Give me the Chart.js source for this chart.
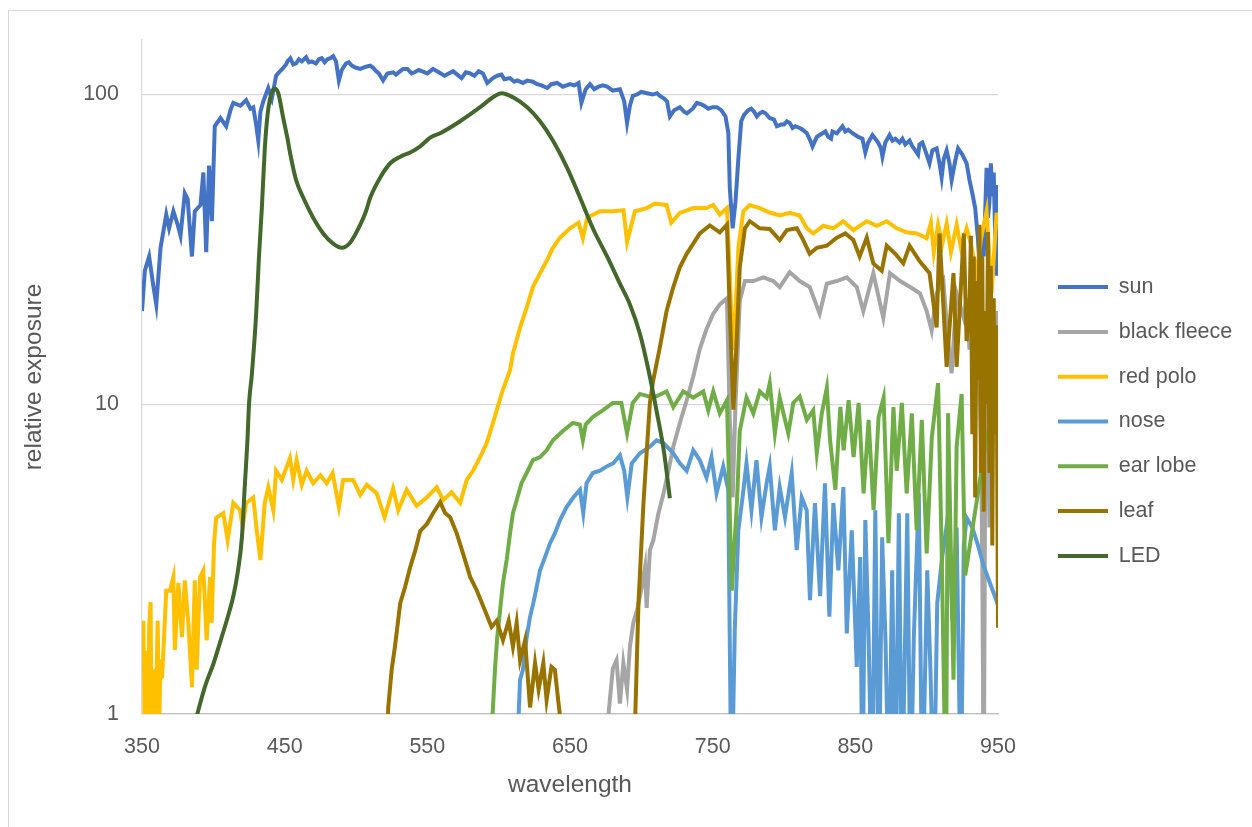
<!DOCTYPE html>
<html>
<head>
<meta charset="utf-8">
<title>relative exposure</title>
<script src="https://cdn.jsdelivr.net/npm/chart.js"></script>
<style>
  html, body { margin: 0; padding: 0; background: #fff; overflow: hidden; }
  #frame { position: absolute; left: 8px; top: 10px; width: 1270px; height: 840px; border: 1px solid #d9d9d9; }
  #box { position: absolute; left: 0; top: 0; width: 1252px; height: 827px; }
</style>
</head>
<body>
<div id="frame"></div>
<div id="box"><canvas id="chart"></canvas></div>
<script>
// axis ticks
const xTicks = [350, 450, 550, 650, 750, 850, 950];
const yTicks = [1, 10, 100];

// sun
const sunNm = [
  350, 352, 355, 358, 360, 363, 367, 369, 372, 375,
  377, 380, 382, 385, 387, 391, 393, 395, 397, 399,
  401, 405, 409, 412, 414, 419, 423, 426, 428, 430,
  431.5, 433, 435, 438.5, 441, 444, 446, 449, 451, 452,
  454, 456, 458, 460, 462, 465, 467, 469, 472, 474,
  476, 478, 480, 482, 484, 486, 488, 490, 493, 495,
  497, 500, 503, 507, 510, 512, 514, 516, 519, 522,
  526, 528, 531, 533, 536, 539, 541, 544, 546, 550,
  554, 558, 562, 565, 568, 571, 574, 577, 580, 583,
  586, 589, 592, 596, 599, 602, 604, 608, 611, 613,
  617, 620, 624, 627, 630, 634, 637, 641, 645, 650,
  653, 656, 658, 661, 664, 667, 670, 673, 676, 680,
  685, 688, 690, 692, 694, 697, 700, 704, 708, 711,
  713, 716, 718, 720, 723, 727, 730, 732, 736, 739,
  742, 744, 747, 750, 753, 756, 759, 761, 762, 764,
  766, 768, 770, 772, 775, 777, 779, 781, 783, 785,
  787, 790, 793, 795, 798, 800, 802, 804, 806, 808,
  811, 813, 816, 819, 820, 823, 825, 827, 829, 831,
  833, 834, 837, 839, 841, 843, 845, 848, 850, 852,
  855, 857, 859, 862, 864, 866, 868, 869, 871, 874,
  876, 878, 881, 883, 885, 888, 890, 892, 894, 895,
  897, 898, 900, 902, 904, 907, 909, 910.5, 912, 914,
  916, 917.5, 920, 922, 925, 928, 930, 932, 934, 936,
  937, 938, 939, 940, 942, 943, 944, 945, 946, 947,
  948, 949, 950
];
const sunVal = [
  20, 27, 30, 24, 21, 32, 41, 37, 42, 38,
  35, 48, 46, 30, 42, 44, 56, 31, 59, 39,
  79, 84, 79, 89, 94, 92, 96, 90, 91, 80,
  71, 88, 95, 105, 97, 115, 118, 122, 125, 128,
  131, 125, 126, 130, 128, 132, 127, 128, 126, 130,
  131, 127, 130, 131, 133, 128, 111, 120, 126, 127,
  124, 122, 121, 123, 124, 122, 119, 117, 111, 117,
  118, 116, 119, 121, 121, 117, 118, 120, 119, 117,
  121, 118, 115, 117, 119, 116, 113, 118, 117, 115,
  119, 117, 109, 113, 115, 116, 112, 113, 110, 111,
  109, 111, 110, 108, 107, 105, 108, 109, 106, 108,
  107, 109, 94, 104, 108, 104, 106, 107, 106, 103,
  104, 95, 81, 92, 99, 100, 102, 101, 100, 101,
  99, 97, 95, 85, 89, 91, 88, 87, 90, 94,
  93, 92, 90, 91, 91, 89, 85, 75, 50, 37,
  45, 62, 82, 86, 89, 90, 88, 85, 87, 88,
  87, 84, 83, 79, 80, 80, 82, 81, 78, 79,
  78, 77, 75, 70, 68, 73, 74, 75, 76, 73,
  72, 76, 75, 77, 79, 76, 77, 75, 74, 73,
  72, 65, 70, 74, 72, 70, 67, 63, 70, 74,
  71, 72, 70, 72, 69, 71, 68, 66, 64, 69,
  70, 68, 64, 60, 66, 67, 60, 54, 62, 66,
  60, 53, 61, 67, 64, 60, 53, 48, 43, 34,
  28, 24, 37, 30, 58, 40, 45, 60, 47, 56,
  35, 26, 51
];

// black fleece
const fleeceNm = [
  676, 677, 680, 682.6, 685, 687.4, 690, 692, 694.4, 697,
  700.3, 702.6, 703.7, 706, 708.4, 712, 715.6, 719, 722.4, 727,
  731.8, 736.4, 741, 745.7, 750.4, 755, 760, 762, 764, 766,
  769, 772.6, 778.5, 785.5, 792.5, 797, 804, 811, 818, 825,
  830, 837, 844, 851, 855.6, 862.6, 869.6, 874.3, 881.4, 888.4,
  895.3, 900, 903.5, 907, 911.7, 915, 917.5, 921, 926, 928,
  930, 932, 934, 936, 938, 939, 940, 941, 942, 944,
  946, 948, 950
];
const fleeceVal = [
  0.5, 1.0, 1.4, 1.49, 1.08, 1.46, 1.2, 1.65, 1.97, 2.16,
  2.57, 2.98, 2.2, 3.38, 3.64, 4.45, 5.16, 6.1, 7.3, 8.7,
  10.3, 12.3, 15.1, 17.5, 19.6, 21, 22, 9, 5, 10,
  21.6, 25, 25, 25.7, 25, 23.9, 26.7, 25, 23.9, 19.6,
  24.5, 25, 25.7, 23.9, 20, 26.5, 19, 26.5, 25, 23.9,
  22.8, 20, 17.3, 22.8, 25, 16, 12.6, 22.8, 19, 22,
  15, 21, 12, 18, 8, 3, 0.5, 6, 20, 4,
  18, 10, 20
];

// red polo
const poloNm = [
  350, 351, 352, 353, 354, 355, 356, 357, 358, 359,
  360, 361, 362, 363, 364, 365, 367, 369.6, 372, 373,
  375.5, 378, 380, 382.5, 385, 387, 388.3, 390.7, 393, 395.3,
  397.7, 398.8, 400.5, 402, 407, 410, 414, 418.7, 420.6, 423,
  428, 430.4, 433, 436, 438.5, 442, 444, 448, 453.7, 456,
  458.4, 462, 465.4, 470, 475, 479.5, 483.6, 488, 491, 498,
  503, 507.5, 514.5, 520, 526, 529.6, 535.5, 542.5, 549.6, 556.6,
  561, 567, 573, 577.6, 582, 587, 591.6, 595, 598.6, 602,
  608, 610, 615, 619.6, 624, 629, 633.6, 638, 643, 650,
  656, 659, 662, 671, 680, 687.5, 690, 695.5, 703.7, 709.5,
  717.7, 721, 727, 736.4, 745.7, 750.4, 755, 760, 762, 764,
  766, 768, 771.5, 776, 783, 790, 797, 804, 811, 816,
  820.5, 827.5, 834.5, 841.5, 848.6, 858, 865, 872, 879, 886,
  893, 900, 903, 905, 908, 911, 914, 917, 921, 924,
  928, 931, 935, 938, 942, 945.5, 949, 950
];
const poloVal = [
  1.5, 2.0, 0.8, 1.6, 0.7, 1.9, 2.3, 0.6, 1.4, 0.8,
  1.2, 2.0, 0.9, 1.5, 1.3, 1.6, 2.5, 2.5, 2.77, 1.61,
  2.65, 1.77, 2.7, 1.97, 1.22, 2.7, 1.39, 2.77, 2.91, 1.73,
  2.77, 1.97, 3.56, 4.3, 4.45, 3.64, 4.8, 4.55, 4.02, 4.8,
  5.0, 3.92, 3.14, 4.8, 5.4, 4.55, 6.1, 5.7, 6.7, 5.7,
  6.6, 5.5, 6.1, 5.56, 5.9, 5.56, 6.0, 4.66, 5.7, 5.7,
  5.1, 5.5, 5.16, 4.32, 5.35, 4.55, 5.3, 4.7, 5.0, 5.4,
  4.9, 5.2, 4.8, 5.7, 6.1, 6.75, 7.5, 8.4, 9.56, 10.8,
  12.9, 14.6, 17.7, 20.5, 23.9, 26.5, 29, 32, 34.5, 37,
  38.6, 34.4, 40, 42, 42, 42.3, 33.4, 42, 43, 44.5,
  44, 38.6, 41.5, 43, 43, 44, 41, 43, 26.5, 15,
  20, 32, 42, 44, 43, 41.6, 40.7, 41.5, 40.7, 37,
  35.6, 37.7, 37, 39, 36.5, 39, 37.7, 39, 37, 35.9,
  35.6, 34.4, 38.6, 31, 38, 33, 38.3, 31, 38, 32,
  37, 33, 26.5, 34, 42, 22.8, 41.5, 38
];

// nose
const noseNm = [
  612, 614, 615, 617, 619.6, 622, 624.3, 626.6, 629, 632.5,
  636, 639.4, 643, 647.6, 652.3, 657, 659.3, 661.6, 666, 671,
  675.7, 680.4, 685, 688, 690.2, 693.3, 699, 706, 710.7, 715.4,
  722.4, 727, 731.8, 736.4, 741, 745.7, 749.2, 752.7, 757.4, 760.9,
  763.2, 765.5, 768, 771.3, 773.7, 777.2, 780.7, 784.2, 787.8, 790,
  793.6, 797, 800.7, 805.4, 808.9, 812.4, 815.9, 818.2, 821.7, 825.3,
  828.7, 831.8, 834.6, 838.1, 841.6, 844, 847.5, 851, 853.4, 855,
  857, 859.3, 861.7, 864, 866.5, 868.8, 871.2, 873.5, 875.8, 878.2,
  880.5, 882.8, 886.4, 888.7, 891, 894.5, 896.9, 900.4, 902.7, 905,
  907.4, 910.9, 915.5, 918, 921, 924, 926, 928, 932, 936,
  940, 945, 950
];
const noseVal = [
  0.5, 0.99, 1.29, 1.39, 1.77, 2.06, 2.28, 2.57, 2.91, 3.21,
  3.56, 3.83, 4.23, 4.66, 5.0, 5.3, 4.45, 5.56, 6.0, 6.1,
  6.3, 6.45, 6.85, 6.1, 5.0, 6.45, 6.95, 7.3, 7.65, 7.5,
  6.95, 6.45, 6.1, 7.1, 6.6, 5.8, 6.75, 5.16, 6.3, 5.3,
  0.5, 1.87, 3.92, 5.16, 6.45, 4.55, 6.6, 4.32, 5.56, 6.3,
  3.92, 5.4, 4.32, 6.0, 3.38, 5.0, 4.55, 2.33, 4.8, 2.4,
  5.56, 2.06, 4.8, 2.91, 5.4, 1.82, 3.92, 1.42, 3.21, 0.5,
  4.23, 1.77, 0.5, 4.55, 0.5, 3.72, 1.7, 0.5, 2.91, 0.5,
  4.45, 0.5, 4.45, 0.5, 1.77, 5.16, 0.5, 2.91, 1.36, 0.5,
  2.28, 3.21, 4.55, 2.0, 4.0, 0.5, 3.5, 4.3, 4.0, 3.5,
  3.0, 2.6, 2.25
];

// ear lobe
const earNm = [
  594, 595.7, 597.4, 599, 601, 603, 605.6, 608, 610, 612.6,
  616, 619.6, 624, 629, 633.6, 638, 645, 652, 657, 659,
  661, 666, 673, 680, 686, 690, 694, 699, 708.4, 717.7,
  722.4, 729.4, 736.4, 743.4, 746.9, 750.4, 755, 760, 763.4, 767,
  769, 773.7, 778.5, 783, 787.8, 790, 793.6, 797, 803, 806.5,
  811, 816, 820.5, 823, 826.5, 830, 832.3, 836, 839.5, 841.8,
  845.3, 848.8, 852.3, 855.8, 859.3, 862.8, 866.3, 869.8, 873.2, 876.7,
  879, 882.6, 886, 889.6, 893, 896.6, 900, 903.6, 908, 910.5,
  913.5, 915, 918.8, 921, 924.5, 927, 942, 946, 950
];
const earVal = [
  0.5, 0.99, 1.39, 1.77, 2.16, 2.65, 3.14, 3.83, 4.45, 4.9,
  5.56, 6.0, 6.6, 6.75, 7.1, 7.65, 8.2, 8.7, 8.6, 7.65,
  8.6, 9.1, 9.56, 10.1, 10.1, 8.05, 10.1, 10.8, 10.5, 11,
  9.8, 11, 10.5, 11, 9.56, 11, 9.35, 10.3, 2.5, 4.8,
  8.2, 10.5, 9.35, 11, 10.5, 11.7, 8.05, 10.5, 8.05, 10.1,
  10.6, 8.9, 9.56, 6.95, 9.35, 11.3, 7.65, 5.3, 9.8, 7.1,
  10.3, 6.75, 10.1, 5.16, 8.9, 4.55, 9.1, 10.5, 3.56, 9.8,
  6.1, 10.1, 5.16, 9.35, 3.92, 8.9, 3.3, 7.8, 11.7, 3.4,
  0.5, 9.35, 1.29, 7.3, 10.8, 2.8, 7.8, 9, 10
];

// leaf
const leafNm = [
  520, 522.6, 525, 527.3, 531, 534.4, 538, 541.6, 545, 549.6,
  554, 559, 562.5, 566, 570.6, 575, 580, 584.6, 590.4, 595,
  598.6, 603, 607, 610, 612.6, 615, 618.5, 622, 625.5, 628,
  631.3, 633.6, 637, 639.4, 641.7, 644, 646, 694, 695.5, 698,
  700.3, 701.5, 703.7, 706, 708.4, 713, 717.7, 722.4, 727, 731.8,
  736.4, 741, 748, 755, 760, 762, 764.5, 766.8, 769, 772.6,
  776, 783, 790, 797, 802, 809, 813.5, 818, 823, 830,
  837, 843, 848.6, 853, 858, 862.6, 868.5, 872, 878, 883.6,
  888, 895, 902, 907, 909, 914, 918.8, 921, 926, 928,
  930, 931, 932, 933, 934, 935, 936, 937, 938, 939,
  940, 941, 942, 943, 944, 945, 946, 947, 948, 949,
  950
];
const leafVal = [
  0.5, 1.05, 1.39, 1.65, 2.28, 2.57, 2.98, 3.38, 3.9, 4.1,
  4.45, 4.83, 4.45, 4.32, 3.83, 3.3, 2.77, 2.51, 2.16, 1.91,
  2.0, 1.73, 2.0, 1.65, 1.97, 1.49, 1.73, 1.05, 1.46, 1.2,
  1.46, 1.11, 1.42, 1.39, 1.11, 0.9, 0.5, 0.5, 0.9, 2.28,
  3.72, 4.8, 6.95, 10.1, 12, 15.3, 20, 23.9, 27.7, 30.6,
  33, 35.6, 37.8, 35.9, 38, 20, 9.6, 16, 27.7, 37,
  39, 37, 36.8, 33.9, 36.5, 37, 33.9, 30.6, 32, 32.5,
  34.5, 35.6, 33.9, 30, 34.5, 28.5, 27, 32.5, 30.6, 28.5,
  32.5, 29, 26.5, 17.7, 35.6, 13.2, 26.5, 13.2, 35.6, 16,
  20, 35, 8, 30, 5, 25, 12, 38, 6, 30,
  4.5, 20, 10, 36, 6, 28, 3.5, 22, 8, 18,
  1.9
];

// LED
const ledNm = [
  385, 390, 395, 400, 405, 410, 414, 417, 420, 422,
  424, 425, 427, 430, 432, 434, 436, 438, 440, 443,
  445.5, 449, 452, 454, 458, 463, 470, 477, 484, 490,
  496, 503, 507, 510, 517, 524, 531, 538, 545, 552,
  559, 573, 587, 596, 602, 610, 620, 629, 638, 648,
  657, 666, 676, 685, 692, 699, 705, 711, 716, 720
];
const ledVal = [
  0.85, 1.05, 1.26, 1.45, 1.72, 2.05, 2.4, 2.85, 3.7, 5.4,
  7.8, 10, 12.5, 19.5, 30, 43, 66, 86, 98, 104.6,
  101, 84, 72, 64, 53, 46.5, 40, 35.6, 33, 32,
  33.3, 38, 42, 46.5, 54, 60, 63, 65, 68, 72.6,
  75, 82, 91, 98, 101, 98, 91, 82, 71, 58,
  46.5, 37, 30, 24.5, 21, 16.9, 12.9, 9.35, 6.95, 4.97
];

const series = [
  { label: 'sun', nm: sunNm, val: sunVal, color: '#4472C4' },
  { label: 'black fleece', nm: fleeceNm, val: fleeceVal, color: '#A5A5A5' },
  { label: 'red polo', nm: poloNm, val: poloVal, color: '#FFC000' },
  { label: 'nose', nm: noseNm, val: noseVal, color: '#5B9BD5' },
  { label: 'ear lobe', nm: earNm, val: earVal, color: '#70AD47' },
  { label: 'leaf', nm: leafNm, val: leafVal, color: '#997300' },
  { label: 'LED', nm: ledNm, val: ledVal, color: '#43682B', smooth: true }
];

function points(nm, val) {
  return nm.map((x, i) => ({ x: x, y: val[i] }));
}

Chart.defaults.font.family = '"Liberation Sans", Arial, sans-serif';
Chart.defaults.color = '#595959';

const datasets = series.map((s, i) => ({
  label: s.label,
  data: points(s.nm, s.val),
  borderColor: s.color,
  backgroundColor: s.color,
  borderWidth: 4,
  pointRadius: 0,
  tension: s.smooth ? 0.4 : 0,
  cubicInterpolationMode: s.smooth ? 'monotone' : 'default',
  order: series.length - 1 - i   // later series drawn on top, as in the original
}));

// fixed legend width so the plot ends at the same place as the original
const legendWidth = {
  id: 'legendWidth',
  afterInit(chart) {
    const fit = chart.legend.fit;
    chart.legend.fit = function () {
      fit.call(this);
      this.width = 217.3;
    };
  }
};

new Chart(document.getElementById('chart'), {
  type: 'line',
  data: { datasets: datasets },
  plugins: [legendWidth],
  options: {
    responsive: true,
    maintainAspectRatio: false,
    animation: false,
    layout: { padding: { left: 0, top: 40, right: 0, bottom: 24 } },
    plugins: {
      legend: {
        position: 'right',
        fullSize: true,
        labels: {
          usePointStyle: true,
          pointStyle: 'line',
          pointStyleWidth: 50,
          padding: 23.3,
          color: '#595959',
          font: { size: 21.5 },
          sort: (a, b) => a.datasetIndex - b.datasetIndex
        }
      },
      tooltip: { enabled: false }
    },
    scales: {
      x: {
        type: 'linear',
        min: 350,
        max: 950,
        afterBuildTicks: s => { s.ticks = xTicks.map(v => ({ value: v })); },
        afterFit: s => { s.height = 89; },
        ticks: { padding: 20, autoSkip: false, maxRotation: 0, font: { size: 21.5 }, callback: v => String(v) },
        grid: { display: false, drawTicks: false },
        border: { display: true, color: '#BFBFBF', width: 1.3 },
        title: { display: true, text: 'wavelength', font: { size: 24.5 }, padding: { top: 0, bottom: 3.3 } }
      },
      y: {
        type: 'logarithmic',
        min: 1,
        max: 150,
        afterBuildTicks: s => { s.ticks = yTicks.map(v => ({ value: v })); },
        afterFit: s => { s.width = 142; },
        ticks: { padding: 23, font: { size: 21.5 }, callback: v => String(v) },
        grid: { color: '#D9D9D9', lineWidth: 1.3, drawTicks: false },
        border: { display: true, color: '#D9D9D9', width: 1.3 },
        title: { display: true, text: 'relative exposure', font: { size: 24.5 }, padding: { top: 19.3, bottom: 0 } }
      },
      // empty box that pushes the legend away from the plot
      spacer: {
        type: 'linear',
        position: 'right',
        display: true,
        afterFit: s => { s.width = 36.7; },
        ticks: { display: false },
        grid: { display: false, drawTicks: false },
        border: { display: false }
      }
    }
  }
});
</script>
</body>
</html>
